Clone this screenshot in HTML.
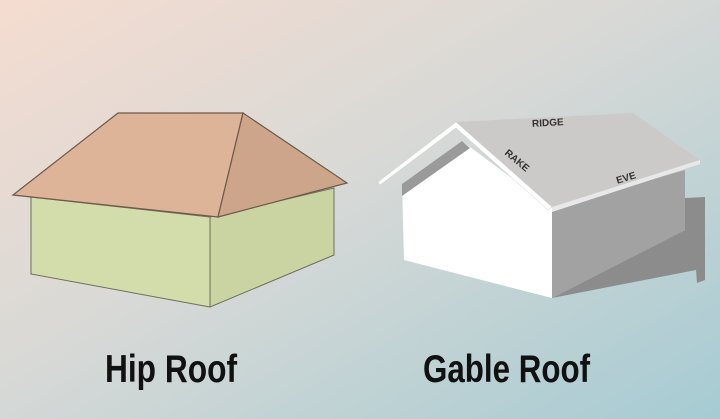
<!DOCTYPE html>
<html><head><meta charset="utf-8"><style>
html,body{margin:0;padding:0;width:720px;height:419px;overflow:hidden}
</style></head><body>
<svg width="720" height="419" viewBox="0 0 720 419" xmlns="http://www.w3.org/2000/svg">
<defs>
<linearGradient id="bg" x1="0" y1="0" x2="1" y2="1">
<stop offset="0" stop-color="#f5dcd0"/>
<stop offset="0.45" stop-color="#d8d9d6"/>
<stop offset="1" stop-color="#a6cbd3"/>
</linearGradient>
</defs>
<rect width="720" height="419" fill="url(#bg)"/>
<!-- Hip roof -->
<polygon points="31,197 210,217 210,307 31,274" fill="#d3dcab" stroke="#6f6f5a" stroke-width="1"/>
<polygon points="210,217 334,188 334,255 210,307" fill="#c9d4a2" stroke="#6f6f5a" stroke-width="1"/>
<polygon points="13,195 118,113 243,113 218,217" fill="#ddb497" stroke="#6d5a4c" stroke-width="1.2"/>
<polygon points="243,113 347,183 218,217" fill="#cca58a" stroke="#6d5a4c" stroke-width="1.2"/>
<!-- Gable roof -->
<polygon points="552,298 685,230 685,198 705,197 705,280 697,283 696,270" fill="#8c8c8c"/>
<polygon points="402,184 462,141 552,208 552,298 404,260" fill="#ffffff"/>
<polygon points="402,184 462,141 470,148 402,196" fill="#9a9a9a"/>
<polygon points="552,208 685,170 685,230 552,298" fill="#a2a2a2"/>
<polygon points="456,122 633,113 700,160 552,207" fill="#cccac8"/>
<polygon points="552,207 700,160 700,164 552,212" fill="#e8e8e8"/>
<polygon points="378,182 456,122 552,207 548,210 456,128 380,185" fill="#ffffff" stroke="#cfcfcf" stroke-width="0.5"/>
<text x="548" y="126" font-family="Liberation Sans, sans-serif" font-size="10" fill="#333" font-weight="bold" transform="rotate(-3 548 126)" text-anchor="middle">RIDGE</text>
<text x="515" y="163" font-family="Liberation Sans, sans-serif" font-size="10" fill="#333" font-weight="bold" transform="rotate(40 515 163)" text-anchor="middle">RAKE</text>
<text x="627" y="181" font-family="Liberation Sans, sans-serif" font-size="10" fill="#333" font-weight="bold" transform="rotate(-17 627 181)" text-anchor="middle">EVE</text>
<text x="105" y="382" font-family="Liberation Sans, sans-serif" font-size="39" font-weight="bold" fill="#111" textLength="132" lengthAdjust="spacingAndGlyphs">Hip Roof</text>
<text x="423" y="382" font-family="Liberation Sans, sans-serif" font-size="39" font-weight="bold" fill="#111" textLength="167" lengthAdjust="spacingAndGlyphs">Gable Roof</text>
</svg>
</body></html>
